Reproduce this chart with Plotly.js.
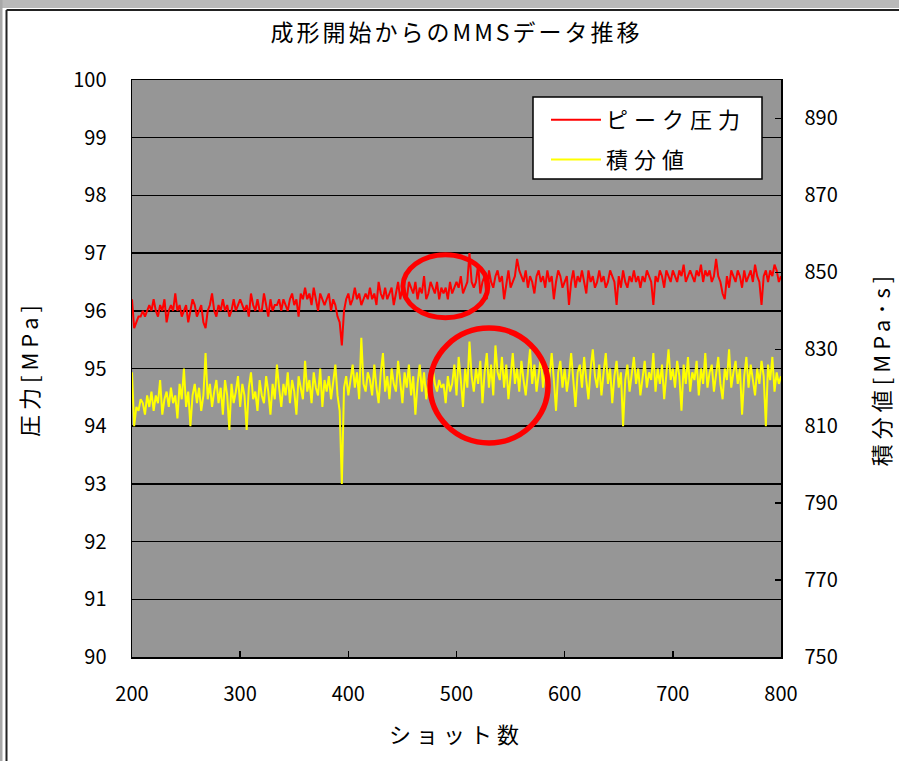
<!DOCTYPE html>
<html>
<head>
<meta charset="utf-8">
<script src="https://cdn.plot.ly/plotly-3.0.1.min.js"></script>
<style>
  html, body { margin: 0; padding: 0; background: #ffffff; }
  #chart { width: 899px; height: 761px; }
  .gtitle { letter-spacing: 3px; }
  .g-xtitle text, .g-ytitle text, .g-y2title text { letter-spacing: 5px; }
  .legendtext { letter-spacing: 6px; }
</style>
</head>
<body>
<div id="chart"></div>
<script>
// Shot numbers sampled every 2 shots from 200 to 800
const firstShot = 200;
const shotStep = 2;

// Peak pressure per sampled shot [MPa]
const peakPressure = [
  96.2, 95.7, 95.8, 95.9, 95.9, 96.0, 95.9, 96.0, 96.1, 96.0,
  96.2, 96.0, 95.9, 96.1, 96.0, 96.2, 95.8, 96.0, 96.1, 96.0,
  96.3, 96.0, 96.1, 95.9, 96.0, 96.1, 95.8, 96.0, 96.2, 96.1,
  95.9, 96.0, 96.1, 95.8, 95.7, 96.0, 96.1, 96.3, 96.0, 95.9,
  96.1, 96.0, 96.2, 96.0, 96.1, 95.9, 96.0, 96.2, 96.0, 96.1,
  96.2, 96.1, 96.0, 96.1, 95.9, 96.3, 96.1, 96.0, 96.2, 96.0,
  96.0, 96.3, 96.1, 95.9, 96.2, 96.0, 96.1, 96.1, 96.2, 96.0,
  96.2, 96.1, 96.0, 96.2, 96.3, 96.1, 96.2, 95.9, 96.3, 96.2,
  96.4, 96.2, 96.3, 96.1, 96.4, 96.2, 96.0, 96.3, 96.2, 96.1,
  96.2, 96.3, 96.0, 96.2, 96.1, 95.9, 95.8, 95.4, 96.0, 96.2,
  96.3, 96.1, 96.2, 96.4, 96.2, 96.3, 96.1, 96.2, 96.3, 96.2,
  96.4, 96.2, 96.3, 96.1, 96.5, 96.3, 96.2, 96.4, 96.2, 96.3,
  96.4, 96.1, 96.3, 96.5, 96.2, 96.4, 96.3, 96.2, 96.5, 96.4,
  96.3, 96.5, 96.2, 96.4, 96.3, 96.6, 96.2, 96.3, 96.5, 96.4,
  96.3, 96.5, 96.2, 96.4, 96.3, 96.4, 96.2, 96.5, 96.3, 96.4,
  96.5, 96.4, 96.6, 96.3, 96.4, 96.5, 97.0, 96.5, 96.4, 96.5,
  96.8, 96.3, 96.5, 96.6, 96.2, 96.7, 96.5, 96.4, 96.6, 96.7,
  96.5, 96.6, 96.2, 96.5, 96.7, 96.4, 96.5, 96.6, 96.9, 96.7,
  96.6, 96.5, 96.7, 96.4, 96.6, 96.5, 96.3, 96.6, 96.7, 96.5,
  96.6, 96.4, 96.7, 96.5, 96.6, 96.2, 96.5, 96.7, 96.6, 96.4,
  96.5, 96.6, 96.1, 96.5, 96.7, 96.4, 96.6, 96.5, 96.7, 96.5,
  96.3, 96.7, 96.5, 96.6, 96.4, 96.5, 96.7, 96.5, 96.6, 96.4,
  96.5, 96.7, 96.6, 96.5, 96.1, 96.6, 96.4, 96.7, 96.5, 96.4,
  96.6, 96.5, 96.7, 96.5, 96.6, 96.4, 96.6, 96.5, 96.7, 96.6,
  96.5, 96.1, 96.6, 96.5, 96.7, 96.6, 96.4, 96.7, 96.6, 96.5,
  96.7, 96.6, 96.5, 96.7, 96.6, 96.8, 96.5, 96.6, 96.7, 96.6,
  96.5, 96.7, 96.6, 96.8, 96.5, 96.7, 96.6, 96.7, 96.5, 96.6,
  96.9, 96.6, 96.5, 96.3, 96.2, 96.6, 96.4, 96.7, 96.6, 96.5,
  96.7, 96.6, 96.4, 96.7, 96.5, 96.6, 96.7, 96.5, 96.8, 96.6,
  96.5, 96.1, 96.6, 96.7, 96.5, 96.7, 96.6, 96.8, 96.7, 96.5,
  96.6
];

// Integrated value per sampled shot [MPa·s]
const integralValue = [
  824, 810, 815, 814, 817, 816, 813, 818, 815, 819,
  814, 818, 816, 822, 813, 817, 819, 815, 820, 816,
  818, 812, 821, 817, 825, 815, 819, 810, 818, 821,
  816, 820, 814, 818, 829, 817, 821, 815, 819, 822,
  816, 820, 813, 822, 818, 809, 821, 816, 819, 823,
  815, 821, 818, 809, 820, 824, 817, 819, 814, 822,
  818, 816, 823, 819, 813, 821, 817, 826, 820, 815,
  821, 818, 824, 816, 822, 819, 813, 823, 820, 817,
  827, 819, 822, 816, 824, 820, 818, 825, 815, 822,
  819, 823, 817, 821, 826, 818, 814, 795, 820, 823,
  818, 822, 826, 820, 824, 817, 833, 821, 819, 824,
  822, 818, 826, 820, 816, 824, 829, 819, 823, 817,
  825, 821, 819, 827, 822, 816, 824, 820, 826, 818,
  823, 813, 821, 826, 819, 824, 817, 822, 820, 825,
  821, 819, 822, 820, 821, 816, 823, 819, 821, 826,
  818, 828, 822, 815, 825, 820, 832, 823, 819, 825,
  821, 827, 816, 824, 829, 820, 826, 818, 831, 824,
  822, 828, 820, 826, 817, 824, 829, 821, 825, 819,
  827, 822, 818, 824, 830, 821, 826, 819, 823, 828,
  820, 825, 817, 823, 829, 822, 814, 824, 827, 820,
  825, 819, 823, 829, 821, 815, 824, 826, 820, 828,
  822, 817, 825, 830, 823, 820, 826, 818, 824, 829,
  821, 825, 816, 823, 827, 820, 824, 810, 822, 826,
  819, 824, 828, 821, 825, 818, 823, 827, 820, 824,
  822, 829, 819, 825, 821, 826, 817, 824, 830, 822,
  825, 820, 827, 823, 814, 826, 821, 828, 819, 824,
  822, 827, 818, 825, 821, 829, 820, 824, 826, 819,
  823, 828, 821, 817, 825, 822, 830, 820, 824, 827,
  821, 825, 813, 823, 828, 820, 826, 822, 818, 825,
  821, 827, 823, 810, 826, 822, 828, 819, 824, 821,
  823
];

const seriesNames = ['ピーク圧力', '積分値'];
const chartTitle = '成形開始からのMMSデータ推移';
const xTitle = 'ショット数';
const yTitle = '圧力[MPa]';
const y2Title = '積分値[MPa･s]';

const shots = peakPressure.map((_, i) => firstShot + i * shotStep);

const FONT = '"Noto Sans CJK JP", "Noto Sans", sans-serif';

const traces = [
  {
    x: shots, y: peakPressure, name: seriesNames[0],
    type: 'scatter', mode: 'lines', yaxis: 'y',
    line: { color: '#ff0000', width: 2 },
    legendgroup: 'a'
  },
  {
    x: shots, y: integralValue, name: seriesNames[1],
    type: 'scatter', mode: 'lines', yaxis: 'y2',
    line: { color: '#ffff00', width: 2 },
    legendgroup: 'b'
  }
];

// pixel helpers for the outer frame (plot area spans 132..781 x, 80..657 y)
const L = 132, R = 781, T = 80, B = 657;
const px = v => (v - L) / (R - L);
const py = v => (B - v) / (B - T);

const layout = {
  width: 899, height: 761,
  margin: { l: L, r: 899 - R, t: T, b: 761 - B, pad: 0 },
  paper_bgcolor: '#ffffff',
  plot_bgcolor: '#969696',
  font: { family: FONT, color: '#000000', size: 20 },
  title: {
    text: chartTitle,
    font: { family: FONT, size: 23, color: '#000' },
    x: 0.5, xref: 'paper', xanchor: 'center',
    y: 1 - 33 / 761, yanchor: 'middle'
  },
  showlegend: true,
  legend: {
    x: px(546), y: py(99), xanchor: 'left', yanchor: 'top',
    bgcolor: 'rgba(0,0,0,0)', borderwidth: 0,
    font: { family: FONT, size: 22, color: '#000' },
    traceorder: 'grouped', tracegroupgap: 8,
    itemwidth: 50
  },
  xaxis: {
    range: [200, 800], dtick: 100, tick0: 200,
    showgrid: false, zeroline: false,
    showline: true, linecolor: '#000', linewidth: 1.5, mirror: true,
    ticks: 'inside', ticklen: 6, tickcolor: '#000', tickwidth: 1.5,
    ticklabelstandoff: 18,
    tickfont: { family: FONT, size: 20 },
    title: { text: xTitle, font: { family: FONT, size: 22 }, standoff: 22 }
  },
  yaxis: {
    range: [90, 100], dtick: 1, tick0: 90,
    showgrid: true, gridcolor: '#000000', gridwidth: 1.5,
    zeroline: false,
    showline: true, linecolor: '#000', linewidth: 1.5,
    ticks: '', ticklabelstandoff: 20,
    tickfont: { family: FONT, size: 20 },
    title: { text: yTitle, font: { family: FONT, size: 22 }, standoff: 28 }
  },
  yaxis2: {
    overlaying: 'y', side: 'right',
    range: [750, 900], dtick: 20, tick0: 750,
    showgrid: false, zeroline: false,
    showline: true, linecolor: '#000', linewidth: 1.5,
    ticks: 'inside', ticklen: 6, tickcolor: '#000', tickwidth: 1.5,
    ticklabelstandoff: 18,
    tickfont: { family: FONT, size: 20 },
    title: { text: y2Title, font: { family: FONT, size: 22 }, standoff: 38 }
  },
  shapes: [
    // window chrome band along the top and left edges
    { type: 'rect', xref: 'paper', yref: 'paper', x0: px(0), x1: px(899), y0: py(0), y1: py(8),
      fillcolor: '#b9b9b9', line: { width: 0 }, layer: 'below' },
    { type: 'rect', xref: 'paper', yref: 'paper', x0: px(0), x1: px(2.5), y0: py(0), y1: py(761),
      fillcolor: '#a8a8a8', line: { width: 0 }, layer: 'below' },
    // chart frame
    { type: 'line', xref: 'paper', yref: 'paper', x0: px(6.5), x1: px(6.5), y0: py(10), y1: py(761),
      line: { color: '#222', width: 2 } },
    { type: 'line', xref: 'paper', yref: 'paper', x0: px(6.5), x1: px(899), y0: py(10), y1: py(10),
      line: { color: '#222', width: 2 } },
    // highlight rings around the region after shot ~450
    { type: 'circle', xref: 'x', yref: 'y', x0: 450.5, x1: 529, y0: 95.88, y1: 96.97,
      line: { color: '#ff0000', width: 5 }, fillcolor: 'rgba(0,0,0,0)' },
    { type: 'circle', xref: 'x', yref: 'y', x0: 475.5, x1: 584.6, y0: 93.71, y1: 95.70,
      line: { color: '#ff0000', width: 5.5 }, fillcolor: 'rgba(0,0,0,0)' },
    // legend box
    { type: 'rect', xref: 'paper', yref: 'paper', x0: px(533), x1: px(762), y0: py(97), y1: py(179),
      fillcolor: '#ffffff', line: { color: '#000', width: 1.5 } }
  ]
};

Plotly.newPlot('chart', traces, layout, { displayModeBar: false, staticPlot: true });
</script>
</body>
</html>
